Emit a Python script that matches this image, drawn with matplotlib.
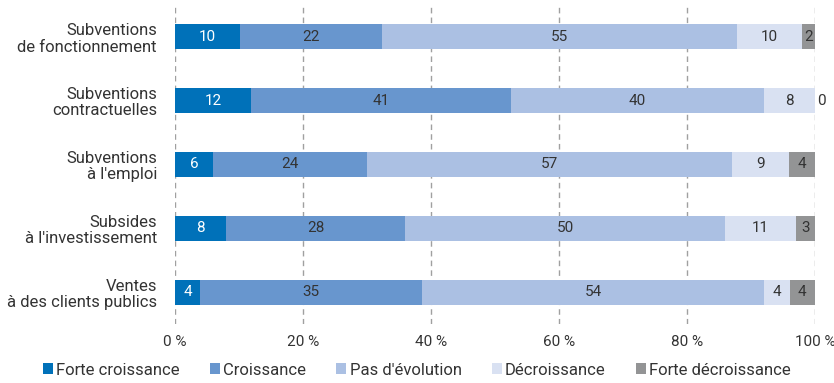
import matplotlib
matplotlib.use("Agg")
import matplotlib.pyplot as plt
from matplotlib.patches import Patch
import numpy as np

plt.rcParams['font.family'] = ['Roboto', 'DejaVu Sans']

categories = ["Subventions\nde fonctionnement", "Subventions\ncontractuelles",
              "Subventions\nà l'emploi", "Subsides\nà l'investissement",
              "Ventes\nà des clients publics"]
series_names = ["Forte croissance", "Croissance", "Pas d'évolution",
                "Décroissance", "Forte décroissance"]
forte_croissance = [10, 12, 6, 8, 4]
croissance = [22, 41, 24, 28, 35]
pas_evolution = [55, 40, 57, 50, 54]
decroissance = [10, 8, 9, 11, 4]
forte_decroissance = [2, 0, 4, 3, 4]
xticks = [0, 20, 40, 60, 80, 100]
xtick_labels = ["0 %", "20 %", "40 %", "60 %", "80 %", "100 %"]

colors = ["#0071b9", "#6896ce", "#abc0e3", "#d9e1f2", "#939495"]
text_colors = ["white", "#333333", "#333333", "#333333", "#333333"]

series = [forte_croissance, croissance, pas_evolution, decroissance, forte_decroissance]
data = np.array(series, dtype=float)
totals = data.sum(axis=0)
norm = data / totals * 100

fig = plt.figure(figsize=(8.34, 3.83), dpi=100)
ax = fig.add_axes([0.2098, 0.154, 0.7674, 0.833])

y = np.arange(len(categories))
left = np.zeros(len(categories))
for i, name in enumerate(series_names):
    ax.barh(y, norm[i], left=left, height=0.39, color=colors[i], label=name, zorder=2)
    for j in range(len(categories)):
        v = series[i][j]
        if v == 0:
            ax.text(left[j] + norm[i][j] + 0.4, y[j], str(v), ha='left', va='center',
                    fontsize=11, color="#333333", zorder=3)
        else:
            ax.text(left[j] + norm[i][j] / 2, y[j], str(v), ha='center', va='center',
                    fontsize=11, color=text_colors[i], zorder=3)
    left += norm[i]

ax.set_ylim(len(categories) - 0.5, -0.5)
ax.set_xlim(0, 100)
ax.set_yticks(y)
ax.set_yticklabels(categories, fontsize=12, color="#333333", linespacing=1.1)
ax.set_xticks(xticks)
ax.set_xticklabels(xtick_labels, fontsize=11, color="#333333")
ax.tick_params(axis='both', length=0)
ax.tick_params(axis='x', pad=8)
ax.tick_params(axis='y', pad=13)
for s in ax.spines.values():
    s.set_visible(False)
ax.xaxis.grid(True, linestyle=(0, (4, 3)), color="#a0a0a0", linewidth=1, zorder=0)
ax.set_axisbelow(True)

handles = [Patch(facecolor=c, edgecolor='none') for c in colors]
fig.legend(handles, series_names, loc='lower center', bbox_to_anchor=(0.5, -0.025),
           ncol=5, frameon=False, fontsize=12, handlelength=0.6, handleheight=0.6,
           handletextpad=0.2, columnspacing=1.8, labelcolor="#333333")

fig.savefig("out.png", dpi=100)
